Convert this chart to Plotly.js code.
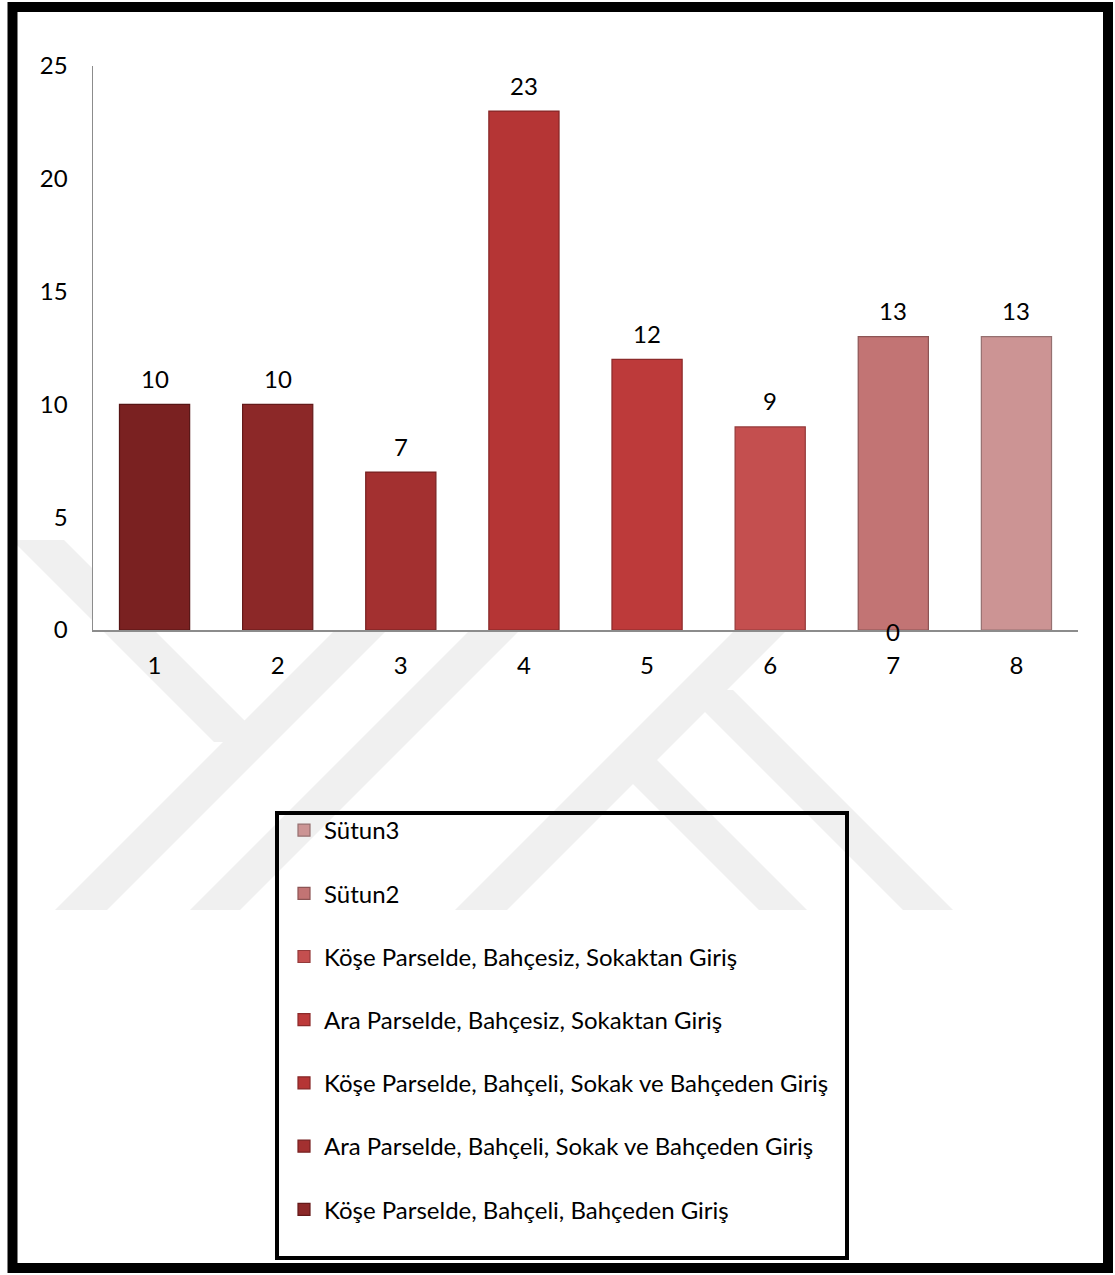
<!DOCTYPE html>
<html>
<head>
<meta charset="utf-8">
<script src="https://cdn.plot.ly/plotly-3.0.1.min.js"></script>
<style>
  html, body { margin: 0; padding: 0; background: #ffffff; }
  #chart { width: 1115px; height: 1275px; }
</style>
</head>
<body>
<div id="chart"></div>
<script>
// ---- data ----
const categories = [1, 2, 3, 4, 5, 6, 7, 8];
const values = [10, 10, 7, 23, 12, 9, 13, 13];
const seriesNames = [
  null,
  'Köşe Parselde, Bahçeli, Bahçeden Giriş',
  'Ara Parselde, Bahçeli, Sokak ve Bahçeden Giriş',
  'Köşe Parselde, Bahçeli, Sokak ve Bahçeden Giriş',
  'Ara Parselde, Bahçesiz, Sokaktan Giriş',
  'Köşe Parselde, Bahçesiz, Sokaktan Giriş',
  'Sütun2',
  'Sütun3'
];
const barColors = ['#7a2121', '#8c2828', '#a33030', '#b53535', '#bd3a3a', '#c44f4f', '#c27474', '#cc9494'];
const lineColors = ['#561414', '#641919', '#772121', '#852626', '#8c2a2a', '#943a3a', '#8c5454', '#957070'];
const zeroLabelCats = [7];
const zeroLabelVals = [0];
const yTickVals = [0, 5, 10, 15, 20, 25];

// ---- geometry helpers (pixel -> paper) for decoration ----
const W = 1115, H = 1275;
const L = 93, R = 1078, T = 66, B = 630;
const px = x => (x - L) / (R - L);
const py = y => (B - y) / (B - T);
function poly(pts) {
  return 'M' + pts.map(p => px(p[0]).toFixed(5) + ',' + py(p[1]).toFixed(5)).join('L') + 'Z';
}

const FONT = 'Lato, "Open Sans", sans-serif';
const FS = 24;

const traces = categories.map((c, i) => ({
  type: 'bar',
  x: [c],
  y: [values[i]],
  name: seriesNames[i] || '',
  showlegend: seriesNames[i] !== null,
  legendgroup: 'g' + i,
  legendrank: 1000 - i,
  width: 0.57,
  marker: { color: barColors[i], line: { color: lineColors[i], width: 1.2 } },
  hoverinfo: 'x+y'
}));

// watermark bands (light gray)
const wm = '#f0f0f0';
const bands = [];
function asc(b, w, yTop) { const d = 910 - yTop; return poly([[b, 910], [b + w, 910], [b + w + d, yTop], [b + d, yTop]]); }
function desc(xTop, w, yTop, yBot) { const d = yBot - yTop; return poly([[xTop, yTop], [xTop + w, yTop], [xTop + w + d, yBot], [xTop + d, yBot]]); }
bands.push(asc(55, 52, 540));
bands.push(asc(190, 50, 540));
bands.push(asc(455, 52, 540));
bands.push(desc(12, 52, 540, 742));
bands.push(desc(609, 48, 760, 910));
bands.push(desc(683, 50, 690, 910));

const shapes = bands.map(p => ({
  type: 'path', xref: 'paper', yref: 'paper', path: p,
  fillcolor: wm, line: { width: 0 }, layer: 'below'
}));
// white plot area over the watermark
shapes.push({ type: 'rect', xref: 'paper', yref: 'paper', x0: 0, x1: 1, y0: 0, y1: 1,
  fillcolor: '#ffffff', line: { width: 0 }, layer: 'below' });
// legend box
shapes.push({ type: 'rect', xref: 'paper', yref: 'paper',
  x0: px(277), x1: px(847), y0: py(813), y1: py(1258),
  fillcolor: 'rgba(0,0,0,0)', line: { color: '#000000', width: 4 }, layer: 'above' });
// outer frame
shapes.push({ type: 'rect', xref: 'paper', yref: 'paper',
  x0: px(12.5), x1: px(1108), y0: py(7), y1: py(1268),
  fillcolor: 'rgba(0,0,0,0)', line: { color: '#000000', width: 10 }, layer: 'above' });

const annotations = categories.map((c, i) => ({
  x: c, y: values[i], xref: 'x', yref: 'y', text: String(values[i]),
  showarrow: false, yanchor: 'middle', yshift: 26,
  font: { family: FONT, size: FS, color: '#000000' }
}));
zeroLabelCats.forEach((c, i) => annotations.push({
  x: c, y: zeroLabelVals[i], xref: 'x', yref: 'y', text: String(zeroLabelVals[i]),
  showarrow: false, yanchor: 'middle', yshift: -1,
  font: { family: FONT, size: FS, color: '#000000' }
}));

const layout = {
  width: W, height: H,
  margin: { l: L, r: W - R, t: T, b: H - B, pad: 0 },
  paper_bgcolor: '#ffffff',
  plot_bgcolor: 'rgba(0,0,0,0)',
  barmode: 'overlay',
  font: { family: FONT, size: FS, color: '#000000' },
  xaxis: {
    range: [0.5, 8.5], tickvals: categories, ticktext: categories.map(String),
    showline: true, linecolor: '#8c8c8c', linewidth: 1.5,
    showgrid: false, zeroline: false, ticks: '', ticklabelstandoff: 14,
    tickfont: { family: FONT, size: FS, color: '#000000' }
  },
  yaxis: {
    range: [0, 25], tickvals: yTickVals,
    showline: true, linecolor: '#8c8c8c', linewidth: 1.5,
    showgrid: false, zeroline: false, ticks: '', ticklabelstandoff: 19,
    tickfont: { family: FONT, size: FS, color: '#000000' }
  },
  showlegend: true,
  legend: {
    x: px(284), y: py(808), xanchor: 'left', yanchor: 'top',
    traceorder: 'grouped', tracegroupgap: 29,
    itemwidth: 30, bgcolor: 'rgba(0,0,0,0)', borderwidth: 0,
    font: { family: FONT, size: FS, color: '#000000' }
  },
  shapes: shapes,
  annotations: annotations
};

Plotly.newPlot('chart', traces, layout, { displayModeBar: false, staticPlot: true });
</script>
</body>
</html>
